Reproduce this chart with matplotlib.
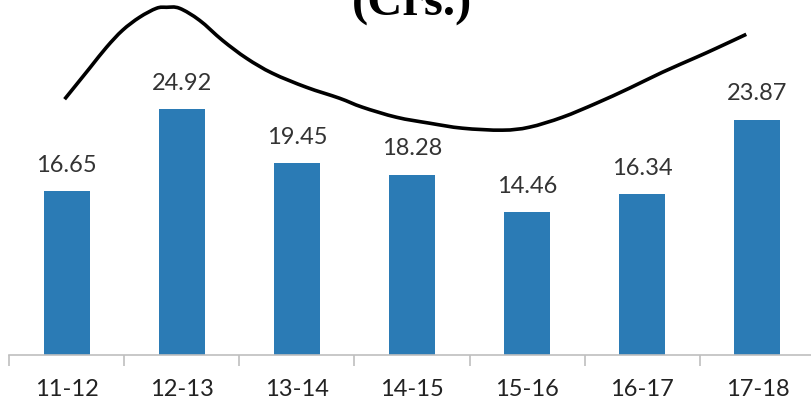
import numpy as np
import matplotlib.pyplot as plt
from matplotlib.path import Path
from matplotlib.patches import PathPatch

# categories and bar values
years = ['11-12', '12-13', '13-14', '14-15', '15-16', '16-17', '17-18']
values = [16.65, 24.92, 19.45, 18.28, 14.46, 16.34, 23.87]

# black trend curve (x in category units, y in same units as bars)
curve_x = [-0.017, 0.200, 0.347, 0.486, 0.634, 0.781, 0.868, 0.981, 1.155, 1.354,
           1.563, 1.788, 2.083, 2.370, 2.569, 2.865, 3.151, 3.438, 3.785, 4.019,
           4.306, 4.601, 4.887, 5.174, 5.469, 5.642, 5.903]
curve_y = [25.94, 29.08, 31.21, 32.93, 34.25, 35.16, 35.26, 35.16, 33.94, 31.91,
           30.09, 28.57, 27.15, 26.04, 25.13, 24.11, 23.51, 23.00, 22.80, 23.10,
           24.11, 25.53, 27.05, 28.67, 30.19, 31.10, 32.52]

fig = plt.figure(figsize=(8.11, 4.05), dpi=100)
ax = fig.add_axes([9 / 811, 50 / 405, 806 / 811, 355 / 405])

x = np.arange(len(years))
bars = ax.bar(x, values, width=0.4, color='#2b7bb5', zorder=2)

for xi, v in zip(x, values):
    ax.annotate(f'{v:.2f}', (xi, v), xytext=(0, 11), textcoords='offset points',
                ha='center', va='bottom', fontsize=17, family='Lato', color='#333333')

# smooth curve through the read points (Catmull-Rom as cubic bezier)
pts = np.column_stack([curve_x, curve_y])
ext = np.vstack([pts[0], pts, pts[-1]])
verts = [tuple(pts[0])]
codes = [Path.MOVETO]
for i in range(1, len(ext) - 2):
    p0, p1, p2, p3 = ext[i - 1], ext[i], ext[i + 1], ext[i + 2]
    c1 = p1 + (p2 - p0) / 6
    c2 = p2 - (p3 - p1) / 6
    verts += [tuple(c1), tuple(c2), tuple(p2)]
    codes += [Path.CURVE4] * 3
ax.add_patch(PathPatch(Path(verts, codes), fill=False, edgecolor='black', lw=2.6,
                       capstyle='butt', zorder=3))

ax.set_xlim(-0.5, 6.5)
ax.set_ylim(0, 36)
for s in ['top', 'right', 'left']:
    ax.spines[s].set_visible(False)
ax.spines['bottom'].set_color('#bfbfbf')
ax.spines['bottom'].set_linewidth(1.2)
ax.set_yticks([])

ax.set_xticks(x)
ax.set_xticklabels(years, fontsize=17, family='Lato', color='#222222')
ax.tick_params(axis='x', which='major', length=0, pad=17)
ax.set_xticks(np.arange(-0.5, 6.6, 1.0), minor=True)
ax.tick_params(axis='x', which='minor', length=8, color='#bfbfbf', width=1.2)

fig.text(412 / 811, 1 - 16 / 405, '(Crs.)', ha='center', va='baseline',
         fontsize=35, fontweight='bold', family='Liberation Serif')

fig.savefig('out.png', dpi=100)
